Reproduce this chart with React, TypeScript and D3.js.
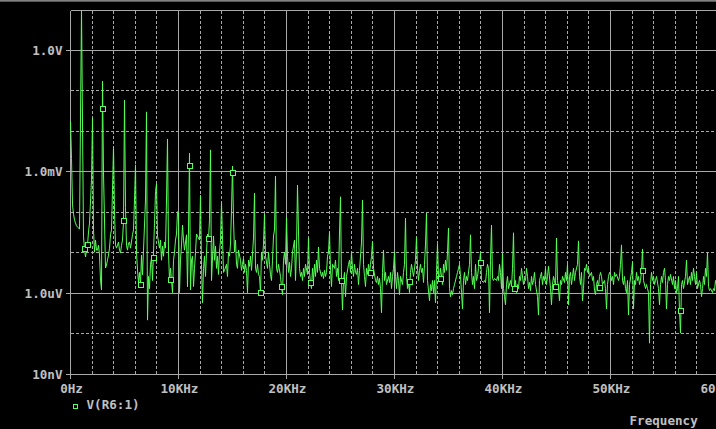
import React from "react";
import * as d3 from "d3";

// ---- data: log10(|V(R6:1)|) sampled every 100 Hz ----
const BIN_HZ = 100;
const seg0to10k = [
  -1.76, -2.68, -3.83, -4.06, -4.2, -4.28, -4.35, -4.4, -4.43, -1.68,
  1.0, -1.78, -4.62, -4.92, -5.12, -4.95, -4.83, -4.5, -4.28, -3.21,
  -1.69, -4.45, -5.0, -4.7, -4.95, -4.95, -4.83, -5.07, -5.69, -5.93,
  -0.77, -3.04, -5.39, -5.32, -5.19, -5.07, -4.9, -4.57, -4.45, -3.46,
  -2.4, -4.0, -4.82, -4.9, -4.75, -4.95, -5.02, -4.83, -4.7, -4.25,
  -1.24, -3.9, -4.83, -4.95, -4.77, -4.75, -4.9, -4.57, -4.45, -3.71,
  -2.84, -5.0, -5.44, -5.76, -5.5, -5.82, -5.07, -5.56, -4.95, -3.71,
  -1.53, -6.68, -5.6, -5.9, -5.3, -5.15, -5.7, -5.0, -4.3, -3.5,
  -3.31, -4.6, -4.9, -4.7, -5.2, -4.85, -5.1, -4.75, -4.9, -3.71,
  -2.2, -5.0, -5.69, -5.4, -6.0, -5.2, -5.0, -4.7, -4.55, -4.0,
];
const seg10to20k = [
  -4.0, -6.0, -5.19, -4.82, -4.33, -4.7, -4.95, -4.57, -5.86, -4.45,
  -2.55, -5.93, -5.19, -5.1, -5.85, -5.4, -5.0, -4.55, -4.6, -4.7,
  -3.59, -5.3, -6.25, -5.4, -5.1, -5.6, -5.0, -4.55, -4.68, -4.2,
  -2.47, -5.7, -4.6, -5.2, -4.85, -5.4, -5.1, -5.55, -5.0, -4.7,
  -3.78, -4.65, -5.5, -5.45, -5.3, -5.6, -5.0, -5.1, -4.8, -3.96,
  -2.87, -4.2, -5.0, -4.7, -5.3, -5.4, -4.95, -5.2, -5.45, -5.3,
  -5.15, -5.5, -5.3, -5.45, -6.0, -5.2, -5.35, -5.1, -5.45, -4.65,
  -3.54, -5.4, -5.5, -5.3, -5.55, -5.6, -6.02, -5.0, -5.2, -4.8,
  -4.06, -5.1, -5.4, -5.0, -5.3, -5.55, -5.7, -5.2, -4.6, -4.45,
  -3.12, -5.4, -5.5, -5.3, -5.6, -5.86, -6.05, -5.2, -5.0, -5.3,
];
const seg20to30k = [
  -4.13, -5.1, -5.5, -5.25, -5.6, -5.4, -5.0, -4.7, -5.7, -4.9,
  -3.34, -4.5, -5.4, -5.6, -5.5, -5.7, -5.4, -5.6, -5.3, -5.55,
  -4.65, -5.5, -5.77, -5.9, -5.4, -5.7, -5.3, -5.6, -5.2, -5.5,
  -4.87, -5.4, -5.6, -5.5, -5.65, -5.45, -5.6, -5.5, -5.1, -5.0,
  -4.5, -5.45, -5.85, -5.3, -5.4, -5.2, -5.6, -5.4, -5.7, -4.5,
  -3.63, -5.72, -6.43, -5.7, -5.5, -6.1, -5.6, -5.3, -5.2, -5.5,
  -5.0, -5.4, -5.6, -5.3, -5.5, -5.55, -5.4, -5.8, -5.45, -4.75,
  -3.71, -5.3, -5.6, -5.85, -5.4, -5.55, -5.3, -5.52, -5.3, -5.1,
  -4.74, -5.4, -5.7, -5.75, -5.6, -5.8, -5.65, -5.9, -6.5, -5.5,
  -4.95, -5.7, -5.5, -5.8, -5.6, -5.75, -5.5, -5.9, -5.6, -5.4,
];
const seg30to40k = [
  -5.0, -5.6, -5.9, -5.5, -5.7, -6.05, -5.6, -5.8, -5.5, -5.3,
  -4.16, -5.6, -5.9, -5.74, -6.0, -5.5, -5.3, -5.45, -5.6, -5.2,
  -4.62, -5.4, -5.7, -5.45, -5.3, -5.5, -5.4, -5.75, -5.3, -4.8,
  -4.03, -5.7, -6.2, -5.8, -5.95, -5.7, -6.0, -5.7, -6.25, -5.5,
  -4.8, -5.6, -5.66, -5.4, -5.8, -5.3, -5.5, -5.2, -5.45, -5.0,
  -4.4, -5.9, -6.1, -5.95, -6.05, -5.9, -5.8, -5.6, -5.5, -5.4,
  -5.3, -5.6, -6.0, -6.4, -5.7, -5.5, -5.8, -5.6, -5.7, -5.3,
  -4.57, -5.5, -5.8, -5.6, -5.9, -5.3, -5.7, -5.6, -5.4, -5.27,
  -5.0, -5.7, -5.75, -5.7, -5.75, -5.5, -5.3, -5.4, -6.5, -5.2,
  -4.33, -5.65, -5.7, -5.65, -5.7, -5.6, -5.7, -5.3, -5.5, -5.9,
];
const seg40to50k = [
  -5.02, -5.9, -6.1, -6.3, -5.8, -5.6, -5.9, -5.7, -5.85, -5.4,
  -4.52, -5.92, -5.7, -6.0, -5.8, -5.9, -5.6, -5.7, -5.4, -5.8,
  -5.65, -5.7, -5.4, -5.6, -5.9, -5.75, -5.95, -5.6, -5.8, -5.7,
  -5.5, -5.8, -6.1, -6.55, -5.7, -5.6, -5.5, -5.8, -5.6, -5.7,
  -5.4, -5.8, -5.6, -5.35, -5.9, -6.3, -5.8, -5.6, -5.7, -5.85,
  -4.65, -5.7, -5.9, -6.2, -5.7, -5.8, -5.6, -5.75, -5.5, -5.7,
  -5.3, -6.3, -5.6, -5.5, -5.8, -5.6, -5.4, -5.7, -5.5, -5.3,
  -4.72, -5.6, -5.8, -5.5, -6.2, -5.9, -5.4, -5.45, -5.3, -5.5,
  -5.4, -5.6, -5.5, -5.7, -5.6, -5.95, -6.05, -5.8, -5.7, -5.89,
  -5.6, -5.5, -5.6, -5.8, -5.7, -5.9, -6.4, -5.8, -5.6, -5.5,
];
const seg50to60k = [
  -5.55, -5.7, -5.6, -5.8, -5.5, -5.6, -5.55, -5.7, -5.6, -5.3,
  -4.82, -5.7, -5.8, -5.6, -5.9, -6.0, -5.7, -6.55, -5.8, -5.5,
  -5.25, -6.4, -5.7, -5.8, -5.5, -5.7, -5.6, -5.8, -5.7, -5.47,
  -4.92, -5.7, -5.9, -5.8, -5.9, -6.0, -7.25, -5.8, -5.5, -5.7,
  -5.6, -5.8, -5.7, -5.6, -5.9, -6.3, -5.8, -5.6, -5.75, -5.5,
  -5.4, -5.7, -6.4, -5.8, -5.6, -5.7, -5.55, -5.8, -5.6, -5.9,
  -5.7, -6.0, -5.9, -5.6, -6.46, -7.0, -5.8, -5.7, -5.9, -5.6,
  -5.2, -5.8, -5.7, -5.6, -5.8, -5.5, -5.7, -5.4, -5.6, -5.8,
  -5.5, -5.9, -5.7, -5.8, -6.1, -5.9, -5.6, -5.8, -5.4, -5.6,
  -5.0, -5.85, -5.95, -5.9, -6.0, -5.9, -5.95, -5.7, -5.8, -5.9,
  -5.7,
];

// trace markers (frequency in Hz, log10 V)
const markerFreqs = [
  1310, 1556, 2940, 4890, 6460, 7670, 9240, 11000, 12820, 15000, 17570,
  19520, 22200, 25050, 27760, 31370, 34240, 37940, 41090, 44930, 48960,
  52940, 56460,
];
const markerLogs = [
  -4.92, -4.83, -1.47, -4.24, -5.82, -5.15, -5.7, -2.88, -4.68, -3.05, -6.02,
  -5.86, -5.77, -5.72, -5.52, -5.74, -5.66, -5.27, -5.92, -5.85, -5.89,
  -5.47, -6.46,
];

const xTickVals = [0, 10000, 20000, 30000, 40000, 50000, 60000];
const xTickLabels = ["0Hz", "10KHz", "20KHz", "30KHz", "40KHz", "50KHz", "60KHz"];
const yTickVals = [1, 1e-3, 1e-6, 1e-8];
const yTickLabels = ["1.0V", "1.0mV", "1.0uV", "10nV"];
const seriesName = "V(R6:1)";
const xAxisTitle = "Frequency";

const W = 716;
const H = 429;
const L = 70.5;
const T = 10.5;
const B = 373.5;
const GREEN = "#55ff55";
const GRID = "#a8a8a8";
const TXT = "#c0c0c0";
const FONT = "'DejaVu Sans Mono', 'Liberation Mono', monospace";

export default function App() {
  const logs = [
    ...seg0to10k,
    ...seg10to20k,
    ...seg20to30k,
    ...seg30to40k,
    ...seg40to50k,
    ...seg50to60k,
  ];
  const data = logs.map((v, i) => ({ f: i * BIN_HZ, v: Math.pow(10, v) }));

  const x = d3.scaleLinear().domain([0, 60000]).range([L, L + 648]);
  const y = d3.scaleLog().domain([1e-8, Math.pow(10, 0.977)]).range([B, T]);

  const line = d3
    .line<{ f: number; v: number }>()
    .x((d) => Math.floor(x(d.f)) + 0.5)
    .y((d) => y(d.v));

  const vGrid = d3.range(0, 60001, 2000);
  const decades = d3.range(-8, 1).map((e) => Math.pow(10, e));

  return (
    <svg
      width={W}
      height={H}
      style={{ position: "fixed", left: 0, top: 0, background: "#000" }}
    >
      <rect x={0} y={0} width={W} height={H} fill="#000" />
      <rect x={0} y={0} width={W} height={1.7} fill="#808080" />
      <defs>
        <clipPath id="plot">
          <rect x={L - 0.5} y={T} width={W - L + 1} height={B - T} />
        </clipPath>
      </defs>
      {/* vertical grid */}
      {vGrid.map((f) => {
        const major = f % 10000 === 0;
        const xx = Math.floor(x(f)) + 0.5;
        return (
          <line
            key={"v" + f}
            x1={xx}
            x2={xx}
            y1={T}
            y2={major ? B + 5 : B}
            stroke={GRID}
            strokeWidth={1}
            strokeDasharray={major ? undefined : "3,2"}
            shapeRendering="crispEdges"
          />
        );
      })}
      {/* horizontal grid */}
      {decades.map((v, i) => {
        const e = Math.round(Math.log10(v));
        const major = e % 3 === 0 || e === -8;
        const yy = Math.round(y(v)) + 0.5;
        return (
          <line
            key={"h" + i}
            x1={L}
            x2={W}
            y1={yy}
            y2={yy}
            stroke={GRID}
            strokeWidth={1}
            strokeDasharray={major ? undefined : "3,2"}
            shapeRendering="crispEdges"
          />
        );
      })}
      {/* top border */}
      <line x1={L} x2={W} y1={T} y2={T} stroke={GRID} shapeRendering="crispEdges" />
      {/* y ticks and labels */}
      {yTickVals.map((v, i) => {
        const yy = Math.round(y(v)) + 0.5;
        return (
          <g key={"yt" + i}>
            <line x1={L - 5} x2={L} y1={yy} y2={yy} stroke={GRID} shapeRendering="crispEdges" />
            <text
              x={62.5}
              y={yy + 4.5}
              textAnchor="end"
              fontFamily={FONT}
              fontWeight="bold"
              fontSize={12.6}
              fill={TXT}
            >
              {yTickLabels[i]}
            </text>
          </g>
        );
      })}
      {/* x tick labels */}
      {xTickVals.map((f, i) => (
        <text
          key={"xt" + i}
          x={x(f) + 1}
          y={392.5}
          textAnchor="middle"
          fontFamily={FONT}
          fontWeight="bold"
          fontSize={12.6}
          fill={TXT}
        >
          {xTickLabels[i]}
        </text>
      ))}
      {/* trace */}
      <g clipPath="url(#plot)">
        <path
          d={line(data) || ""}
          fill="none"
          stroke={GREEN}
          strokeWidth={1}
          strokeLinejoin="miter"
        />
        {markerFreqs.map((f, i) => (
          <rect
            key={"m" + i}
            x={Math.floor(x(f)) - 2}
            y={Math.round(y(Math.pow(10, markerLogs[i]))) - 2.5}
            width={5}
            height={5}
            fill="#000"
            stroke={GREEN}
            strokeWidth={1}
            shapeRendering="crispEdges"
          />
        ))}
      </g>
      {/* legend */}
      <rect
        x={73.5}
        y={404.5}
        width={4}
        height={4}
        fill="none"
        stroke={GREEN}
        shapeRendering="crispEdges"
      />
      <text x={86.5} y={409} fontFamily={FONT} fontWeight="bold" fontSize={12.6} fill={TXT}>
        {seriesName}
      </text>
      <text x={629.5} y={424.5} fontFamily={FONT} fontWeight="bold" fontSize={12.6} fill={TXT}>
        {xAxisTitle}
      </text>
    </svg>
  );
}
